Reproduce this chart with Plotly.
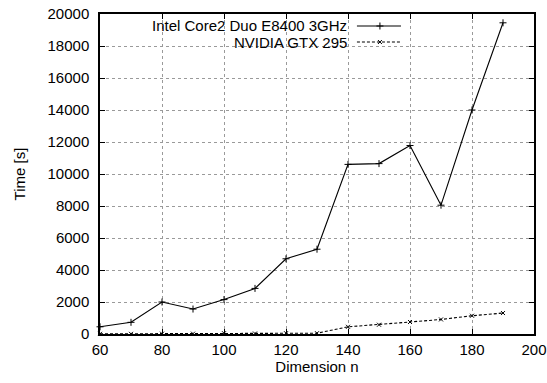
import plotly.graph_objects as go

# Data
dims = [60, 70, 80, 90, 100, 110, 120, 130, 140, 150, 160, 170, 180, 190]
intel = [450, 730, 2000, 1560, 2150, 2850, 4700, 5300, 10600, 10650, 11780, 8050, 14000, 19450]
nvidia = [10, 10, 20, 20, 50, 30, 50, 50, 450, 580, 750, 910, 1140, 1310]
series_names = ["Intel Core2 Duo E8400 3GHz", "NVIDIA GTX 295"]
x_ticks = [60, 80, 100, 120, 140, 160, 180, 200]
y_ticks = [0, 2000, 4000, 6000, 8000, 10000, 12000, 14000, 16000, 18000, 20000]

FONT = "Liberation Sans, Arial, Helvetica, sans-serif"
FS = 15

fig = go.Figure()
fig.add_trace(go.Scatter(
    x=dims, y=intel, mode="lines+markers", name=series_names[0],
    line=dict(color="black", width=1.1),
    marker=dict(symbol="cross-thin", size=5, line=dict(color="black", width=1)),
    showlegend=False, cliponaxis=False,
))
fig.add_trace(go.Scatter(
    x=dims, y=nvidia, mode="lines+markers", name=series_names[1],
    line=dict(color="black", width=1.1, dash="3px,2px"),
    marker=dict(symbol="x-thin", size=4, line=dict(color="black", width=1)),
    showlegend=False, cliponaxis=False,
))

# Legend samples on an overlay axis with fixed 0..1 range
leg_y = [0.9625, 0.9125]
leg_x0, leg_x1, leg_xm = 0.592, 0.6935, 0.645
fig.add_trace(go.Scatter(
    x=[leg_x0, leg_xm, leg_x1], y=[leg_y[0]] * 3, mode="lines",
    line=dict(color="black", width=1.1), xaxis="x2", yaxis="y2",
    showlegend=False, hoverinfo="skip",
))
fig.add_trace(go.Scatter(
    x=[leg_xm], y=[leg_y[0]], mode="markers",
    marker=dict(symbol="cross-thin", size=5, line=dict(color="black", width=1)),
    xaxis="x2", yaxis="y2", showlegend=False, hoverinfo="skip",
))
fig.add_trace(go.Scatter(
    x=[leg_x0, leg_xm, leg_x1], y=[leg_y[1]] * 3, mode="lines",
    line=dict(color="black", width=1.1, dash="3px,2px"), xaxis="x2", yaxis="y2",
    showlegend=False, hoverinfo="skip",
))
fig.add_trace(go.Scatter(
    x=[leg_xm], y=[leg_y[1]], mode="markers",
    marker=dict(symbol="x-thin", size=4, line=dict(color="black", width=1)),
    xaxis="x2", yaxis="y2", showlegend=False, hoverinfo="skip",
))

for name, yy in zip(series_names, leg_y):
    fig.add_annotation(
        text=name, xref="paper", yref="paper", x=0.5737, y=yy,
        xanchor="right", yanchor="middle", showarrow=False,
        font=dict(family=FONT, size=FS, color="black"),
    )

# White legend background hiding grid lines
fig.add_shape(type="rect", xref="paper", yref="paper",
              x0=0.018, x1=0.7235, y0=0.89, y1=0.985,
              fillcolor="white", line=dict(width=0), layer="between")

axis_common = dict(
    showline=True, linecolor="black", linewidth=1.5, mirror="ticks",
    ticks="inside", ticklen=5, tickcolor="black", tickwidth=1,
    showgrid=True, gridcolor="#9a9a9a", griddash="dot", gridwidth=1,
    zeroline=False, automargin=False,
    tickfont=dict(family=FONT, size=FS, color="black"),
)

fig.update_layout(
    width=547, height=383,
    margin=dict(l=100, r=13, t=14, b=49, autoexpand=False),
    paper_bgcolor="white", plot_bgcolor="white",
    font=dict(family=FONT, size=FS, color="black"),
    xaxis=dict(range=[60, 200], tickvals=x_ticks, ticktext=[str(v) for v in x_ticks],
               title=dict(text="Dimension n", standoff=4, font=dict(family=FONT, size=FS)),
               ticklabelstandoff=1, **axis_common),
    yaxis=dict(range=[0, 20000], tickvals=y_ticks, ticktext=[str(v) for v in y_ticks],
               title=dict(text="Time [s]", standoff=18, font=dict(family=FONT, size=FS)),
               ticklabelstandoff=6, **axis_common),
    xaxis2=dict(range=[0, 1], overlaying="x", visible=False, fixedrange=True),
    yaxis2=dict(range=[0, 1], overlaying="y", visible=False, fixedrange=True),
)

fig.write_html("out.html")
